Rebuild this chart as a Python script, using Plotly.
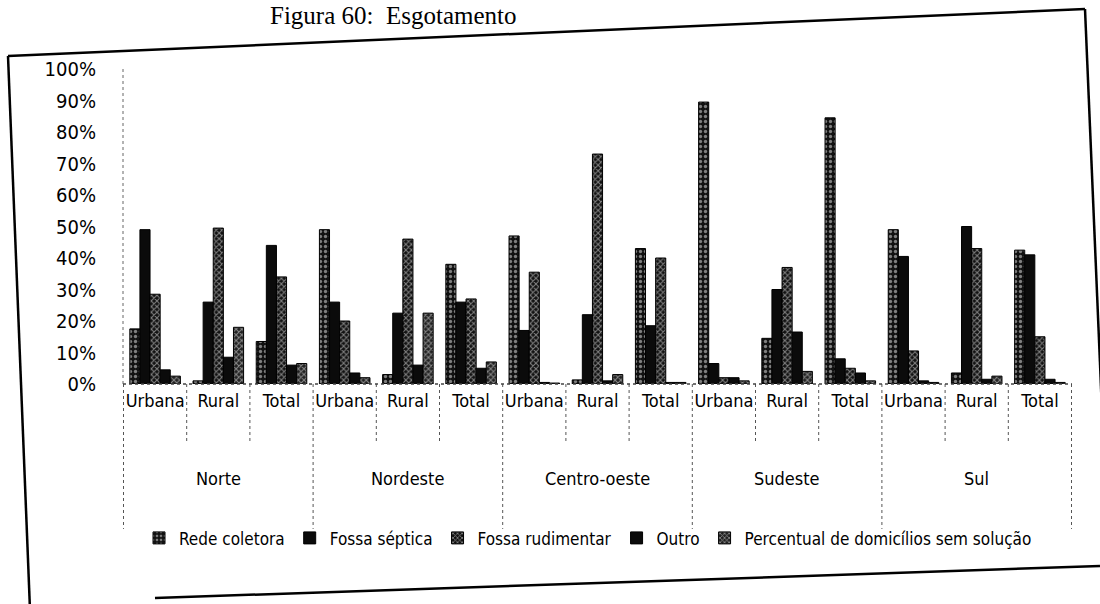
import plotly.graph_objects as go

# Regions and zones (two-level category axis)
regions = ["Norte", "Nordeste", "Centro-oeste", "Sudeste", "Sul"]
zones = ["Urbana", "Rural", "Total"]

# Share of households (%) by type of sewage disposal
rede_coletora = [17.5, 1.0, 13.5, 49.0, 3.0, 38.0, 47.0, 1.3, 43.0, 89.5, 14.5, 84.5, 49.0, 3.5, 42.5]
fossa_septica = [49.0, 26.0, 44.0, 26.0, 22.5, 26.0, 17.0, 22.0, 18.5, 6.5, 30.0, 8.0, 40.5, 50.0, 41.0]
fossa_rudimentar = [28.5, 49.5, 34.0, 20.0, 46.0, 27.0, 35.5, 73.0, 40.0, 2.0, 37.0, 5.0, 10.5, 43.0, 15.0]
outro = [4.5, 8.5, 6.0, 3.5, 6.0, 5.0, 0.5, 1.0, 0.5, 2.0, 16.5, 3.5, 1.0, 1.5, 1.5]
sem_solucao = [2.5, 18.0, 6.5, 2.0, 22.5, 7.0, 0.3, 3.0, 0.5, 1.0, 4.0, 1.0, 0.5, 2.5, 0.5]

y_ticks = [0, 10, 20, 30, 40, 50, 60, 70, 80, 90, 100]

keys = [f"{r} {z}" for r in regions for z in zones]
sub_labels = [z for r in regions for z in zones]

FONT = "DejaVu Sans Condensed, Liberation Sans Narrow, sans-serif"

series = [
    ("Rede coletora", rede_coletora, dict(shape=".", bgcolor="#111", fgcolor="#eee", size=5, solidity=0.35)),
    ("Fossa séptica", fossa_septica, None),
    ("Fossa rudimentar", fossa_rudimentar, dict(shape="x", bgcolor="#111", fgcolor="#f2f2f2", size=4, solidity=0.45)),
    ("Outro", outro, None),
    ("Percentual de domicílios sem solução", sem_solucao, dict(shape="x", bgcolor="#222", fgcolor="#eee", size=4, solidity=0.45)),
]

fig = go.Figure()
for name, vals, pat in series:
    marker = dict(color="#0b0b0b", line=dict(color="#000", width=1))
    if pat:
        marker["pattern"] = pat
    fig.add_trace(go.Bar(name=name, x=keys, y=vals, marker=marker))

# Axis dividers below the category axis (dotted)
shapes = []
n = len(keys)
for i in range(n + 1):
    region_edge = i % len(zones) == 0
    shapes.append(dict(
        type="line", xref="x", yref="paper",
        x0=i - 0.5, x1=i - 0.5, y0=0, y1=-0.46 if region_edge else -0.19,
        line=dict(color="#555", width=1, dash="dot"),
    ))
# dotted axis lines
shapes.append(dict(type="line", xref="paper", yref="paper", x0=0, x1=0, y0=0, y1=1,
                   line=dict(color="#666", width=1, dash="dot")))
shapes.append(dict(type="line", xref="paper", yref="paper", x0=0, x1=1, y0=0, y1=0,
                   line=dict(color="#444", width=1.5, dash="dot")))

# Page frame around the chart
def px(xp, yp):
    return (xp - 123) / 949, (384 - yp) / 315

frame = [((8, 56), (1085, 9)), ((8, 56), (30, 610)), ((1085, 9), (1110, 600)), ((155, 598), (1100, 566))]
for (a, b) in frame:
    x0, y0 = px(*a)
    x1, y1 = px(*b)
    shapes.append(dict(type="line", xref="paper", yref="paper", x0=x0, y0=y0, x1=x1, y1=y1,
                       line=dict(color="#000", width=2.5)))

annotations = []
for k, r in enumerate(regions):
    annotations.append(dict(
        x=k * len(zones) + (len(zones) - 1) / 2, xref="x", y=-0.30, yref="paper",
        xanchor="center", yanchor="middle",
        text=r, showarrow=False, font=dict(family=FONT, size=18, color="#000"),
    ))
tx, ty = px(393, 16)
annotations.append(dict(x=tx, y=ty, xref="paper", yref="paper", xanchor="center", yanchor="middle",
                        text="Figura 60:  Esgotamento", showarrow=False,
                        font=dict(family="Liberation Serif, serif", size=25, color="#000")))

fig.update_layout(
    width=1100, height=604,
    margin=dict(l=123, r=28, t=69, b=220),
    paper_bgcolor="white", plot_bgcolor="white",
    barmode="group", bargap=0.2, bargroupgap=0,
    font=dict(family=FONT, color="#000"),
    showlegend=True,
    legend=dict(orientation="h", x=0.49, xanchor="center", y=-0.49, yanchor="middle",
                bgcolor="rgba(0,0,0,0)",
                font=dict(family=FONT, size=17, color="#000"), itemwidth=30, traceorder="normal"),
    shapes=shapes,
    annotations=annotations,
    xaxis=dict(type="category", tickmode="array", tickvals=keys, ticktext=sub_labels,
               tickfont=dict(family=FONT, size=18, color="#000"), showline=False, showgrid=False,
               ticks="", ticklabelstandoff=4),
    yaxis=dict(range=[0, 100], tickmode="array", tickvals=y_ticks,
               ticktext=[f"{v}%" for v in y_ticks],
               tickfont=dict(family=FONT, size=20, color="#000"), showgrid=False, zeroline=False,
               showline=False, ticks="", ticklabelstandoff=26),
)

fig.write_html("out.html")
